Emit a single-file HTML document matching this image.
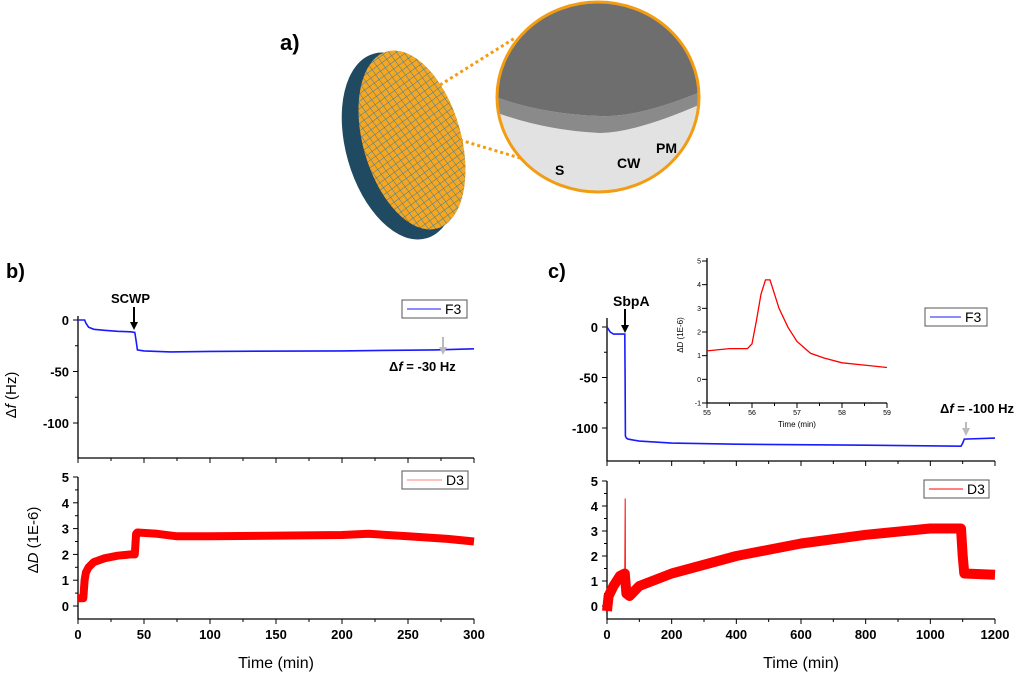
<!DOCTYPE html>
<html><head><meta charset="utf-8">
<style>
html,body{margin:0;padding:0;background:#fff;}
svg{display:block;font-family:"Liberation Sans",sans-serif;}
.tk{font-size:13px;font-weight:bold;fill:#000;}
</style></head>
<body>
<svg id="fig" width="1024" height="673" viewBox="0 0 1024 673" xmlns="http://www.w3.org/2000/svg">
<defs>
<pattern id="grid" width="6" height="6" patternUnits="userSpaceOnUse" patternTransform="rotate(-20)">
<rect width="6" height="6" fill="#f5a623"/>
<path d="M0 0H6M0 0V6" stroke="#3d7d9a" stroke-width="1"/>
</pattern>
<clipPath id="circ"><ellipse cx="598" cy="97" rx="101" ry="95"/></clipPath>
</defs>
<g>
<text x="280" y="50" font-size="22" font-weight="bold">a)</text>
<ellipse cx="400" cy="146" rx="54" ry="96" transform="rotate(-16 400 146)" fill="#1f4a62"/>
<ellipse cx="412" cy="140" rx="49" ry="92" transform="rotate(-16 412 140)" fill="url(#grid)"/>
<line x1="440" y1="85" x2="515" y2="38" stroke="#f39c12" stroke-width="3" stroke-dasharray="3,3"/>
<line x1="460" y1="140" x2="520" y2="158" stroke="#f39c12" stroke-width="3" stroke-dasharray="3,3"/>
<g clip-path="url(#circ)">
<rect x="490" y="0" width="220" height="200" fill="#e2e2e2"/>
<path d="M490 0H710V88Q640 118 600 116Q540 114 490 95Z" fill="#6e6e6e"/>
<path d="M490 95Q540 114 600 116Q640 118 710 88V100Q640 132 600 133Q540 130 490 110Z" fill="#8a8a8a"/>
</g>
<ellipse cx="598" cy="97" rx="101" ry="95" fill="none" stroke="#f39c12" stroke-width="3"/>
<text x="555" y="175" font-size="14" font-weight="bold">S</text>
<text x="617" y="168" font-size="14" font-weight="bold">CW</text>
<text x="656" y="153" font-size="14" font-weight="bold">PM</text>
</g>
<g id="charts"></g>
</svg>
<script>
// Panel b data
const bF3T=[0,5,6,8,12,20,30,40,43,44,45,50,70,100,200,270,300];
const bF3V=[0,0,-3,-7,-9,-10,-11,-11.5,-12,-20,-29,-30,-31,-30.5,-30,-29,-28];
const bD3T=[0,4,5,6,8,12,20,30,40,43,44,45,60,75,100,200,220,250,280,300];
const bD3V=[0.3,0.3,1.0,1.3,1.5,1.7,1.85,1.95,2.0,2.0,2.8,2.85,2.8,2.7,2.7,2.75,2.8,2.7,2.6,2.5];
// Panel c data
const cF3T=[0,10,20,50,55,56,57,60,65,100,200,400,800,1095,1100,1105,1200];
const cF3V=[0,-5,-7,-7,-7,-50,-108,-110,-111,-113,-115,-116,-117,-118,-115,-111,-110];
const cD3T=[0,5,20,40,55,57,60,70,100,200,400,600,800,1000,1095,1100,1105,1200];
const cD3V=[-0.2,0.4,0.8,1.2,1.3,1.0,0.5,0.4,0.8,1.3,2.0,2.5,2.85,3.1,3.1,2.0,1.3,1.25];
const cSpikeT=[55,56.3,57];
const cSpikeV=[1.3,4.3,0.8];
// Inset data
const inT=[55,55.5,55.9,56.0,56.1,56.2,56.3,56.4,56.5,56.6,56.8,57,57.3,57.6,58,58.5,59];
const inV=[1.2,1.3,1.3,1.5,2.5,3.6,4.2,4.2,3.6,3.0,2.2,1.6,1.1,0.9,0.7,0.6,0.5];
const bXTicks=[0,50,100,150,200,250,300];
const cXTicks=[0,200,400,600,800,1000,1200];
const fTicksB=[0,-50,-100];
const dTicks=[0,1,2,3,4,5];
const inXTicks=[55,56,57,58,59];
const inYTicks=[-1,0,1,2,3,4,5];

const NS="http://www.w3.org/2000/svg";
const root=document.getElementById('charts');
function el(tag,attrs,parent,txt){const e=document.createElementNS(NS,tag);for(const k in attrs)e.setAttribute(k,attrs[k]);if(txt!==undefined)e.textContent=txt;(parent||root).appendChild(e);return e;}
function lin(d0,d1,r0,r1){return v=>r0+(v-d0)*(r1-r0)/(d1-d0);}
function path(ts,vs,x,y){return ts.map((t,i)=>(i?'L':'M')+x(ts[i]).toFixed(1)+' '+y(vs[i]).toFixed(1)).join(' ');}

function axes(g,x,y,xr,yr,xt,yt,showXLabels,minorX,minorY,fs){
  const a=el('path',{d:`M${xr[0]} ${yr[0]}V${yr[1]}H${xr[1]}`,stroke:'#000','stroke-width':1.3,fill:'none'},g);
  
  
  xt.forEach((v,i)=>{const px=x(v);
    el('line',{x1:px,x2:px,y1:yr[1],y2:yr[1]+5,stroke:'#000'},g);
    if(i<xt.length-1&&minorX){const m=x(v+(xt[1]-xt[0])/2);el('line',{x1:m,x2:m,y1:yr[1],y2:yr[1]+3,stroke:'#000'},g);}
    if(showXLabels){const t=el('text',{x:px,y:yr[1]+(fs>10?20:12),'text-anchor':'middle',class:fs>10?'tk':'','font-size':fs},g,String(v));
      
      }
  });
  yt.forEach((v,i)=>{const py=y(v);
    el('line',{x1:xr[0]-5,x2:xr[0],y1:py,y2:py,stroke:'#000'},g);
    if(i<yt.length-1&&minorY){const m=y(v+(yt[1]-yt[0])/2);el('line',{x1:xr[0]-3,x2:xr[0],y1:m,y2:m,stroke:'#000'},g);}
    const t=el('text',{x:xr[0]-(fs>10?9:6),y:py+(fs>10?5:2.5),'text-anchor':'end',class:fs>10?'tk':'','font-size':fs},g,String(v));
    
    
  });
}
function legend(g,x0,y0,w,color,label){
  const r=el('rect',{x:x0,y:y0,width:w,height:18,fill:'#fff',stroke:'#555','stroke-width':1},g);
  
  
  el('line',{x1:x0+5,x2:x0+w-26,y1:y0+9,y2:y0+9,stroke:color,'stroke-width':1},g);
  const t=el('text',{x:x0+w-22,y:y0+14,'font-size':14},g,label);
  
  
}
function arrow(g,xp,y1,y2,color){
  el('line',{x1:xp,x2:xp,y1:y1,y2:y2-6,stroke:color,'stroke-width':2},g);
  el('path',{d:`M${xp-4} ${y2-8}L${xp+4} ${y2-8}L${xp} ${y2}Z`,fill:color},g);
}
function richText(g,x,y,size,bold,parts,transform,anchor){
  const t=el('text',{x:x,y:y,'font-size':size,'font-weight':bold?'bold':'normal'},g);
  if(transform)t.setAttribute('transform',transform);
  if(anchor)t.setAttribute('text-anchor',anchor);
  parts.forEach(p=>{const s=el('tspan',p[1]?{'font-style':'italic'}:{},t,p[0]);});
  return t;
}

// Panel b
const gb=el('g',{});


el('text',{x:6,y:278,'font-size':20,'font-weight':'bold'},gb,'b)');
const bx=lin(0,300,78,474);
const bfy=lin(0,-100,320,423);
axes(gb,bx,bfy,[78,474],[316,458],bXTicks,fTicksB,false,true,true,13);
let p=el('path',{d:path(bF3T,bF3V,bx,bfy),stroke:'#1a1aff','stroke-width':1.6,fill:'none'},gb);


legend(gb,402,300,65,'#1a1aff','F3');
el('text',{x:111,y:303,'font-size':13,'font-weight':'bold'},gb,'SCWP');
arrow(gb,134,307,330,'#000');
arrow(gb,443,337,355,'#bbb');
richText(gb,389,371,13,true,[['\u0394',0],['f',1],[' = -30 Hz',0]]);
richText(gb,0,0,15,false,[['\u0394',0],['f',1],[' (Hz)',0]],'translate(16,395) rotate(-90)','middle');
const bdy=lin(0,5,606,477);
axes(gb,bx,bdy,[78,474],[477,619],bXTicks,dTicks,true,true,true,13);
p=el('path',{d:path(bD3T,bD3V,bx,bdy),stroke:'#ff0000','stroke-width':8,fill:'none','stroke-linejoin':'round'},gb);


legend(gb,402,471,66,'#ff8080','D3');
richText(gb,0,0,15,false,[['\u0394',0],['D',1],[' (1E-6)',0]],'translate(38,540) rotate(-90)','middle');
el('text',{x:276,y:668,'font-size':16,'text-anchor':'middle'},gb,'Time (min)');

// Panel c
const gc=el('g',{});


el('text',{x:548,y:278,'font-size':20,'font-weight':'bold'},gc,'c)');
const cx=lin(0,1200,607,995);
const cfy=lin(0,-100,327,428);
axes(gc,cx,cfy,[607,995],[318,461],cXTicks,fTicksB,false,true,true,13);
p=el('path',{d:path(cF3T,cF3V,cx,cfy),stroke:'#1a1aff','stroke-width':1.6,fill:'none'},gc);


legend(gc,925,308,62,'#1a1aff','F3');
el('text',{x:613,y:306,'font-size':14,'font-weight':'bold'},gc,'SbpA');
arrow(gc,625,309,333,'#000');
arrow(gc,966,422,436,'#bbb');
richText(gc,940,413,13,true,[['\u0394',0],['f',1],[' = -100 Hz',0]]);
const cdy=lin(0,5,606,481);
axes(gc,cx,cdy,[607,995],[481,619],cXTicks,dTicks,true,true,true,13);
p=el('path',{d:path(cD3T,cD3V,cx,cdy),stroke:'#ff0000','stroke-width':10,fill:'none','stroke-linejoin':'round'},gc);


p=el('path',{d:path(cSpikeT,cSpikeV,cx,cdy),stroke:'#ff0000','stroke-width':1,fill:'none'},gc);


legend(gc,924,480,65,'#ff0000','D3');
el('text',{x:801,y:668,'font-size':16,'text-anchor':'middle'},gc,'Time (min)');

// Inset
const gi=el('g',{},gc);


const ix=lin(55,59,707,887);
const iy=lin(-1,5,403,261);
axes(gi,ix,iy,[707,887],[258,403],inXTicks,inYTicks,true,true,false,7);
p=el('path',{d:path(inT,inV,ix,iy),stroke:'#ff0000','stroke-width':1.3,fill:'none'},gi);


el('text',{x:797,y:427,'font-size':8,'text-anchor':'middle'},gi,'Time (min)');
el('text',{x:0,y:0,'font-size':8,transform:'translate(683,335) rotate(-90)','text-anchor':'middle'},gi,'\u0394D (1E-6)');
</script>
</body></html>
